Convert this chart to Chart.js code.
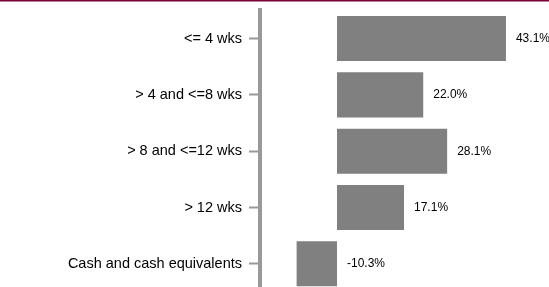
<!DOCTYPE html>
<html>
<head>
<meta charset="utf-8">
<script src="https://cdn.jsdelivr.net/npm/chart.js@4"></script>
<style>
  html, body { margin: 0; padding: 0; background: #fff; overflow: hidden; }
</style>
</head>
<body>
<canvas id="miGrafica" width="549" height="292"></canvas>
<script>
var categorias = ['<= 4 wks', '> 4 and <=8 wks', '> 8 and <=12 wks', '> 12 wks', 'Cash and cash equivalents'];
var valores = [43.1, 22.0, 28.1, 17.1, -10.3];

var gris = 'rgb(128, 128, 128)';

// linea morada arriba
var lineaArriba = {
  id: 'lineaArriba',
  afterDraw: function (chart) {
    var ctx = chart.ctx;
    ctx.save();
    ctx.fillStyle = '#7b0040';
    ctx.fillRect(0, 0, chart.width, 1.5);
    ctx.restore();
  }
};

// etiquetas de porcentaje a la derecha de cada barra
var etiquetasValor = {
  id: 'etiquetasValor',
  afterDatasetsDraw: function (chart) {
    var ctx = chart.ctx;
    var meta = chart.getDatasetMeta(0);
    var xScale = chart.scales.x;
    ctx.save();
    ctx.font = '12px Arial, "Liberation Sans", sans-serif';
    ctx.fillStyle = '#000';
    ctx.textAlign = 'left';
    ctx.textBaseline = 'middle';
    meta.data.forEach(function (bar, i) {
      var v = valores[i];
      var x = xScale.getPixelForValue(Math.max(v, 0)) + 10;
      ctx.fillText(v.toFixed(1) + '%', x, bar.y);
    });
    ctx.restore();
  }
};

let miCanvas = document.getElementById('miGrafica').getContext('2d');

var grafica = new Chart(miCanvas, {
  type: 'bar',
  data: {
    labels: categorias,
    datasets: [{
      data: valores,
      backgroundColor: gris,
      borderColor: gris,
      borderWidth: 0,
      barPercentage: 0.8,
      categoryPercentage: 1.0
    }]
  },
  options: {
    indexAxis: 'y',
    responsive: false,
    animation: false,
    layout: { padding: { top: 10.4, right: 16, bottom: 0, left: 0 } },
    plugins: {
      legend: { display: false },
      tooltip: { enabled: false }
    },
    scales: {
      x: {
        display: false,
        min: -19.64,
        max: 50
      },
      y: {
        afterFit: function (scale) {
          scale.width = 260;
          scale.paddingTop = 0;
          scale.paddingBottom = 0;
        },
        grid: {
          offset: false,
          drawOnChartArea: false,
          drawTicks: true,
          tickLength: 11,
          tickWidth: 2,
          tickColor: '#999'
        },
        border: { display: true, color: '#999', width: 4 },
        ticks: {
          padding: 7,
          color: '#000',
          font: { family: 'Arial, "Liberation Sans", sans-serif', size: 14.5 }
        }
      }
    }
  },
  plugins: [lineaArriba, etiquetasValor]
});
</script>
</body>
</html>
